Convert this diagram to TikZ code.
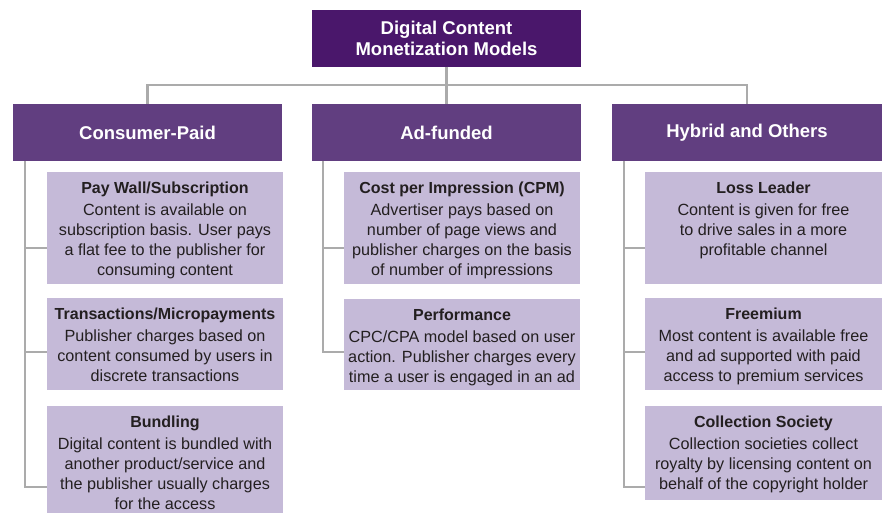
\documentclass[tikz,border=0pt]{standalone}
\usepackage{fontspec}
\setmainfont{Liberation Sans}
\definecolor{rootc}{HTML}{4A176B}
\definecolor{catc}{HTML}{613E80}
\definecolor{itemc}{HTML}{C5BAD8}
\definecolor{linec}{HTML}{ABABAB}
\definecolor{inkc}{HTML}{231F20}

% box content: height, width, bold heading, body lines (top aligned)
\newcommand\itemtext[4]{%
  \parbox[c][#1][t]{#2}{\centering\vspace*{9.5pt}%
    {\fontsize{16}{19.8}\selectfont\bfseries #3\par}\vspace{3pt}%
    {\fontsize{16.2}{19.8}\selectfont #4\par}}}

\tikzset{
  rootbox/.style={fill=rootc, text=white, inner sep=0pt, align=center,
    minimum width=269, minimum height=57,
    font=\fontsize{18.5}{21}\selectfont\bfseries},
  catbox/.style={fill=catc, text=white, inner sep=0pt, align=center,
    minimum height=57, font=\fontsize{18.5}{21}\selectfont\bfseries},
  itembox/.style={fill=itemc, text=inkc, inner sep=0pt},
  conn/.style={draw=linec, line width=2.8pt},
}

\begin{document}
\begin{tikzpicture}[x=1pt,y=-1pt]
\fill[white] (0,0) rectangle (882,512);
\useasboundingbox (0,0) rectangle (882,512);

% root and the three families of models
\node[rootbox] (root) at (446.5,38) {Digital Content\\Monetization Models};
\node[catbox, minimum width=269] (cp) at (147.5,132.5) {Consumer-Paid};
\node[catbox, minimum width=269] (ad) at (446.5,132.5) {Ad-funded};
\node[catbox, minimum width=270] (hy) at (747,132.5) {Hybrid and Others};

% consumer-paid models
\node[itembox] (pw) at (165,228) {\itemtext{112pt}{236pt}{Pay Wall/Subscription}%
  {Content is available on\\subscription basis. User pays\\a flat fee to the publisher for\\consuming content}};
\node[itembox] (tm) at (165,344) {\itemtext{92pt}{236pt}{Transactions/Micropayments}%
  {Publisher charges based on\\content consumed by users in\\discrete transactions}};
\node[itembox] (bu) at (165,460) {\itemtext{108pt}{236pt}{Bundling}%
  {Digital content is bundled with\\another product/service and\\the publisher usually charges\\for the access}};

% ad-funded models
\node[itembox] (cpm) at (462,228) {\itemtext{112pt}{236pt}{Cost per Impression (CPM)}%
  {Advertiser pays based on\\number of page views and\\publisher charges on the basis\\of number of impressions}};
\node[itembox] (pf) at (462,344.5) {\itemtext{91pt}{236pt}{Performance}%
  {CPC/CPA model based on user\\action. Publisher charges every\\time a user is engaged in an ad}};

% hybrid and other models
\node[itembox] (ll) at (763.5,228) {\itemtext{112pt}{237pt}{Loss Leader}%
  {Content is given for free\\to drive sales in a more\\profitable channel}};
\node[itembox] (fr) at (763.5,344) {\itemtext{92pt}{237pt}{Freemium}%
  {Most content is available free\\and ad supported with paid\\access to premium services}};
\node[itembox] (cs) at (763.5,453) {\itemtext{94pt}{237pt}{Collection Society}%
  {Collection societies collect\\royalty by licensing content on\\behalf of the copyright holder}};

% top-level tree
\coordinate (bar) at (446.5,85);
\draw[conn] (root.south) -- (ad.north);
\draw[conn] (cp.north) |- (bar) -| (hy.north);

% spines below each family
\coordinate (cpv) at (25,161);
\coordinate (adv) at (323,161);
\coordinate (hyv) at (624,161);

\draw[conn] (cpv) |- ([yshift=-20pt]pw.west);
\draw[conn] (cpv) |- ([yshift=-8pt]tm.west);
\draw[conn] (cpv) |- ([yshift=-27pt]bu.west);

\draw[conn] (adv) |- ([yshift=-20pt]cpm.west);
\draw[conn] (adv) |- ([yshift=-7.5pt]pf.west);

\draw[conn] (hyv) |- ([yshift=-20pt]ll.west);
\draw[conn] (hyv) |- ([yshift=-8pt]fr.west);
\draw[conn] (hyv) |- ([yshift=-34pt]cs.west);
\end{tikzpicture}
\end{document}
